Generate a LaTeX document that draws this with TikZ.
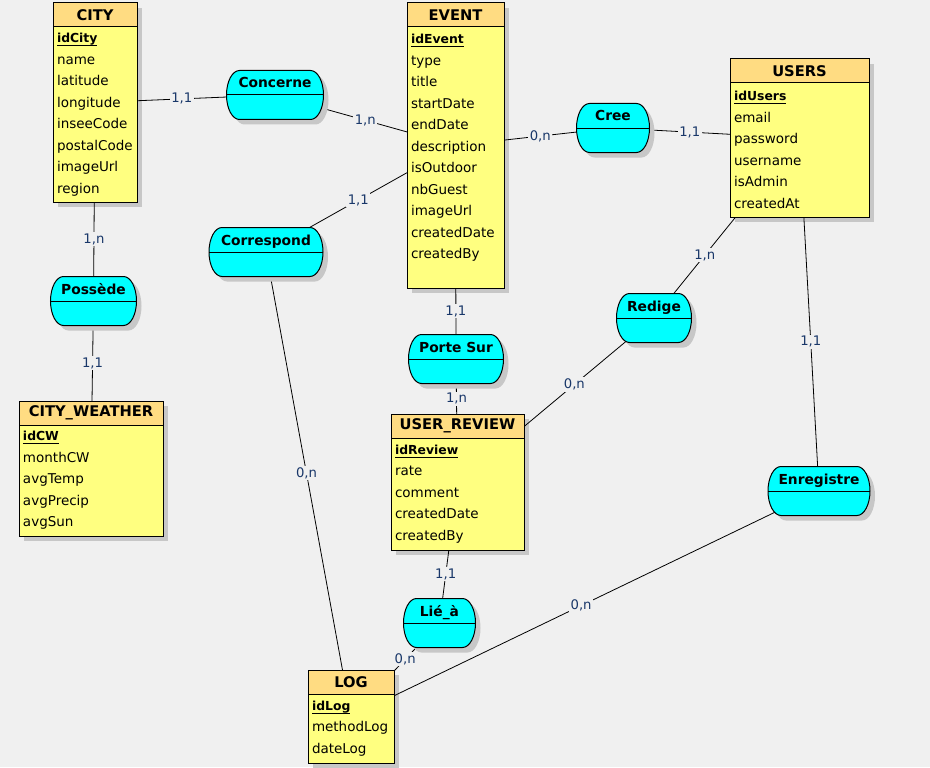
\documentclass[tikz,border=0pt]{standalone}
\usepackage{fontspec}
\setmainfont{DejaVu Sans}
\usetikzlibrary{shadows,fit,backgrounds}
\definecolor{bgc}{RGB}{240,240,240}
\definecolor{headc}{RGB}{255,220,130}
\definecolor{bodyc}{RGB}{255,255,128}
\definecolor{assoc}{RGB}{0,255,255}
\definecolor{cardc}{RGB}{25,55,105}
% underlined identifier
\newcommand{\pk}[1]{{\fontsize{12.4}{21.5}\selectfont\bfseries
  \setbox0\hbox{#1}\rlap{\rule[-3.2pt]{\wd0}{0.9pt}}\box0}}
\begin{document}
\begin{tikzpicture}[x=1pt, y=-1pt,
  sh/.style={drop shadow={shadow xshift=5pt, shadow yshift=-5pt, fill=black!22, opacity=1}},
  ehead/.style={draw, fill=headc, line width=1pt, outer sep=0pt, inner sep=0pt, anchor=north west,
    minimum height=24pt, font=\fontsize{14.7}{17}\selectfont\bfseries},
  ebody/.style={draw, fill=bodyc, line width=1pt, outer sep=0pt, inner xsep=4pt, inner ysep=0pt,
    anchor=north west, align=left, font=\fontsize{13.5}{21.5}\selectfont},
  ent/.style={inner sep=0pt, outer sep=0pt},
  asso/.style={outer sep=0pt, inner sep=0pt, minimum height=49pt, text height=10pt, text depth=24pt,
    font=\fontsize{13.8}{16}\selectfont\bfseries},
  ashape/.style={draw, fill=assoc, line width=1pt, sh},
  mid/.style={line width=1pt},
  lk/.style={line width=0.8pt},
  card/.style={fill=bgc, text=cardc, inner sep=1.5pt, font=\fontsize{13.2}{15}\selectfont}]
  \begin{scope}[on background layer]
    \fill[bgc] (0,0) rectangle (930,767);
  \end{scope}

  % entities
  \node[ehead, minimum width=84pt] (cityh) at (53,3) {CITY};
  \node[ebody, text width=76pt, minimum height=175pt] (cityb) at (cityh.south west)
    {\pk{idCity}\\name\\latitude\\longitude\\inseeCode\\postalCode\\imageUrl\\region};
  \node[ent, fit=(cityh)(cityb)] (city) {};

  \node[ehead, minimum width=97pt] (eventh) at (407,3) {EVENT};
  \node[ebody, text width=89pt, minimum height=261pt] (eventb) at (eventh.south west)
    {\pk{idEvent}\\type\\title\\startDate\\endDate\\description\\isOutdoor\\nbGuest\\imageUrl\\createdDate\\createdBy\\\mbox{}};
  \node[ent, fit=(eventh)(eventb)] (event) {};

  \node[ehead, minimum width=139pt] (usersh) at (730,59) {USERS};
  \node[ebody, text width=131pt, minimum height=134pt] (usersb) at (usersh.south west)
    {\pk{idUsers}\\email\\password\\username\\isAdmin\\createdAt};
  \node[ent, fit=(usersh)(usersb)] (users) {};

  \node[ehead, minimum width=144pt] (cwh) at (19,401) {CITY\_WEATHER};
  \node[ebody, text width=136pt, minimum height=111pt] (cwb) at (cwh.south west)
    {\pk{idCW}\\monthCW\\avgTemp\\avgPrecip\\avgSun};
  \node[ent, fit=(cwh)(cwb)] (cw) {};

  \node[ehead, minimum width=133pt] (reviewh) at (391,414) {USER\_REVIEW};
  \node[ebody, text width=125pt, minimum height=112pt] (reviewb) at (reviewh.south west)
    {\pk{idReview}\\rate\\comment\\createdDate\\createdBy};
  \node[ent, fit=(reviewh)(reviewb)] (review) {};

  \node[ehead, minimum width=86pt] (logh) at (308,670) {LOG};
  \node[ebody, text width=78pt, minimum height=69pt] (logb) at (logh.south west)
    {\pk{idLog}\\methodLog\\dateLog};
  \node[ent, fit=(logh)(logb)] (log) {};

  % associations
  \node[asso, minimum width=97pt] (concerne) at (275,95) {Concerne};
  \node[asso, minimum width=73pt] (cree) at (613,128) {Cree};
  \node[asso, minimum width=114pt] (correspond) at (266,252) {Correspond};
  \node[asso, minimum width=86pt] (possede) at (93.5,301) {Possède};
  \node[asso, minimum width=75pt] (redige) at (654,318) {Redige};
  \node[asso, minimum width=95pt] (portesur) at (456,359) {Porte Sur};
  \node[asso, minimum width=72pt] (lie) at (439.5,623) {Lié\_à};
  \node[asso, minimum width=102pt] (enregistre) at (819,491) {Enregistre};

  \begin{scope}[on background layer]
    \foreach \e in {city,event,users,cw,review,log}
      \fill[black!22] ([xshift=5pt,yshift=-5pt]\e.north west) rectangle ([xshift=5pt,yshift=-5pt]\e.south east);
    \foreach \e/\a in {city/concerne,event/concerne,event/cree,users/cree,city/possede,cw/possede,
        event/correspond,log/correspond,event/portesur,review/portesur,users/redige,review/redige,
        users/enregistre,log/enregistre,review/lie,log/lie}
      \draw[lk] (\e) -- (\a.center);
    \foreach \a in {concerne,cree,correspond,possede,redige,portesur,lie,enregistre} {
      \draw[ashape] ([xshift=13pt]\a.north west) -- ([xshift=-13pt]\a.north east)
        arc[start angle=90, end angle=-90, x radius=13pt, y radius=24.5pt]
        -- ([xshift=13pt]\a.south west)
        arc[start angle=270, end angle=90, x radius=13pt, y radius=24.5pt] -- cycle;
      \draw[mid] (\a.west) -- (\a.east);
    }
  \end{scope}

  % cardinalities
  \foreach \e/\a/\c in {city/concerne/{1,1},event/concerne/{1,n},event/cree/{0,n},users/cree/{1,1},
      city/possede/{1,n},cw/possede/{1,1},event/correspond/{1,1},log/correspond/{0,n},
      event/portesur/{1,1},review/portesur/{1,n},users/redige/{1,n},review/redige/{0,n},
      users/enregistre/{1,1},log/enregistre/{0,n},review/lie/{1,1},log/lie/{0,n}}
    \path (\e) -- node[card] {\c} (\a);
\end{tikzpicture}
\end{document}
